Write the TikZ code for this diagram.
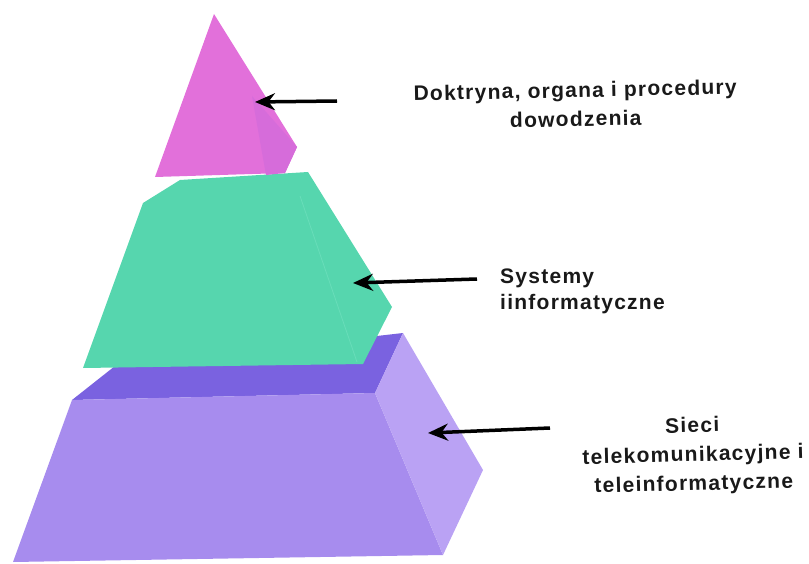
\documentclass[tikz,border=0pt]{standalone}
\usepackage{fontspec}
\setmainfont{Liberation Sans}
\newfontfamily\lblfont[LetterSpace=6]{Liberation Sans}
\usetikzlibrary{arrows.meta}
\definecolor{pinkF}{RGB}{226,112,218}
\definecolor{pinkS}{RGB}{214,108,218}
\definecolor{greenF}{RGB}{86,214,174}
\definecolor{greenL}{RGB}{104,221,185}
\definecolor{purT}{RGB}{122,98,224}
\definecolor{purF}{RGB}{167,140,238}
\definecolor{purS}{RGB}{186,162,244}
\begin{document}
\begin{tikzpicture}[x=1pt,y=-1pt,
  lbl/.style={font=\lblfont\fontsize{21}{29}\selectfont\bfseries, inner sep=0pt, text=black!90},
  pointer/.style={line width=3.5pt, -{Stealth[length=20pt,width=17pt]}, black}]
\useasboundingbox (0,0) rectangle (809,564);
% bottom block
\fill[purT] (72,400) -- (115,366) -- (403,333) -- (375,393) -- cycle;
\fill[purF] (72,400) -- (375,393) -- (443,555) -- (13,562) -- cycle;
\fill[purS] (375,393) -- (403,333) -- (483,470) -- (443,555) -- cycle;
% middle block
\fill[greenF] (143,203) -- (180,180) -- (308,172) -- (392,307) -- (363,364) -- (83,368) -- cycle;
\draw[greenL, line width=0.8pt] (300,196) -- (357,362);
% top pyramid
\fill[pinkF] (214,14) -- (297,147) -- (285,173) -- (155,177) -- cycle;
\fill[pinkS] (252,96) -- (297,147) -- (285,173) -- (266,175) -- cycle;
% labels
\node[lbl, align=center, anchor=north, rotate=1.2] (t1) at (575,82) {Doktryna, organa i procedury\\dowodzenia};
\node[lbl, align=left, anchor=north west, font=\lblfont\fontsize{21}{26}\selectfont\bfseries] (t2) at (500,269) {Systemy\\iinformatyczne};
\node[lbl, align=center, anchor=north, rotate=1.5] (t3) at (692,417) {Sieci\\telekomunikacyjne i\\teleinformatyczne};
% pointers
\coordinate (a1s) at (337,101); \coordinate (a1e) at (255,102);
\coordinate (a2s) at (477,279); \coordinate (a2e) at (353,283);
\coordinate (a3s) at (550,428); \coordinate (a3e) at (428,433);
\draw[pointer] (a1s) -- (a1e);
\draw[pointer] (a2s) -- (a2e);
\draw[pointer] (a3s) -- (a3e);
\end{tikzpicture}
\end{document}
